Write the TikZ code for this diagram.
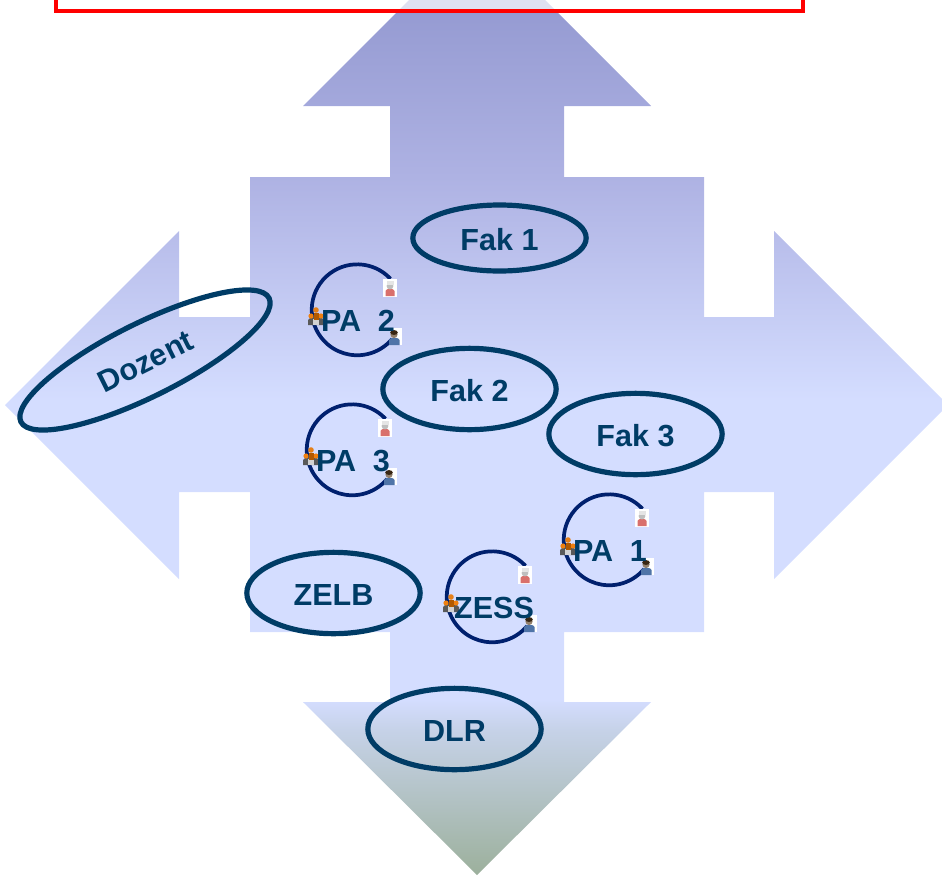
\documentclass[tikz,border=0pt]{standalone}
\usepackage{fontspec}
\setmainfont{Liberation Sans}
\usetikzlibrary{shapes.geometric}
\definecolor{navyT}{HTML}{003C66}
\definecolor{ringC}{HTML}{00206E}
\definecolor{sA}{HTML}{8A90CA}
\definecolor{sB}{HTML}{AEB2E3}
\definecolor{sC}{HTML}{D4DDFF}
\definecolor{sD}{HTML}{C6D2E8}
\definecolor{sE}{HTML}{9CB09C}
\definecolor{manB}{HTML}{4F74A8}
\definecolor{cookB}{HTML}{D9706C}
\pgfdeclareverticalshading{crossgrad}{100bp}{color(0bp)=(sE); color(25bp)=(sE); color(32.7bp)=(sD); color(34.3bp)=(sC); color(50.2bp)=(sC); color(62bp)=(sB); color(75bp)=(sA); color(100bp)=(sA)}
\tikzset{
  x=0.75pt, y=-0.75pt,
  oval/.style={draw=navyT, line width=3.9pt, ellipse, inner sep=0pt, text=navyT, text height=18pt, text depth=0pt,
    font=\fontsize{22.9pt}{26pt}\bfseries, minimum width=130pt, minimum height=58pt},
  ringbase/.style={circle, inner sep=0pt, minimum size=68.25pt},
  ringline/.style={draw=ringC, line width=2.8pt},
  ringtext/.style={text=navyT, inner sep=0pt, font=\fontsize{22.9pt}{26pt}\bfseries},
  iconbg/.style={fill=white, draw=none},
  pics/cookicon/.style={code={
    \fill[iconbg] (-7,-9) rectangle (7,9);
    \fill[cookB] (-4.5,8) -- (-4.5,3) .. controls (-4.5,0) and (4.5,0) .. (4.5,3) -- (4.5,8) -- cycle;
    \fill[gray!50] (0,-2) circle [radius=3.4];
    \fill[gray!20] (-3.5,-7) rectangle (3.5,-3.5);
  }},
  pics/manicon/.style={code={
    \fill[iconbg] (-2,-9) rectangle (7,8);
    \fill[manB] (-6,8) -- (-6,3) .. controls (-6,0) and (4.5,0) .. (4.5,3) -- (4.5,8) -- cycle;
    \fill[gray!70!brown] (-1,-2.5) circle [radius=3.6];
    \fill[black!70!brown] (-1,-4.5) ellipse [x radius=3.8, y radius=2.4];
  }},
  pics/groupicon/.style={code={
    \fill[gray!70!black] (-8,8) -- (-8,3) -- (-5,0) -- (5,0) -- (8,3) -- (8,8) -- cycle;
    \fill[gray!35] (-3,2) rectangle (3,8);
    \fill[orange!75!brown] (-5,-1) circle [radius=2.6];
    \fill[orange!75!brown] (5,-1) circle [radius=2.6];
    \fill[orange!60!brown] (0,-7) circle [radius=2.8];
    \fill[orange!70!black] (-2.5,-4.5) rectangle (2.5,3);
  }},
}
\newcommand{\ringunit}[5]{%
  % name, cx, cy, text, text dx
  \begin{scope}[shift={(#2,#3)}]
    \node[ringbase] (#1c) at (0,0) {};
    \draw[ringline] (#1c.43) arc[start angle=43, end angle=320, radius=34.1pt];
    \pic at (33,-22) {cookicon};
    \pic at (38,27) {manicon};
    \pic at (-41,7) {groupicon};
    \node[ringtext] (#1t) at (#5,11) {#4};
  \end{scope}}
\begin{document}
\begin{tikzpicture}
\useasboundingbox (0,0) rectangle (942,875);
\clip (0,0) rectangle (942,875);
\path[shading=crossgrad]
  (477,-68) -- (651,106) -- (564,106) -- (564,177) -- (704,177) -- (704,317) -- (774,317) -- (774,231)
  -- (948,405) -- (774,579) -- (774,492) -- (704,492) -- (704,632) -- (564,632) -- (564,702) -- (651,702)
  -- (477,875) -- (303,702) -- (390,702) -- (390,632) -- (250,632) -- (250,492) -- (179,492) -- (179,579)
  -- (5,405) -- (179,231) -- (179,317) -- (250,317) -- (250,177) -- (390,177) -- (390,106) -- (303,106) -- cycle;
\fill[white, fill opacity=0.7] (56,-10) rectangle (803,11);
\draw[red, line width=2.3pt] (56,-10) rectangle (803,11);

\node[oval, minimum height=49.5pt] (fak1) at (499.5,238) {Fak 1};
\node[oval, minimum height=61pt] (fak2) at (469.5,389) {Fak 2};
\node[oval, minimum height=61pt] (fak3) at (635.5,434) {Fak 3};
\node[oval, minimum height=61pt] (zelb) at (333.5,593) {ZELB};
\node[oval, minimum height=61pt] (dlr) at (454.5,729) {DLR};
\node[oval, rotate=26.5, minimum width=208pt, minimum height=55pt] (dozent) at (145,360) {Dozent};

\ringunit{pa2}{357}{310}{PA\hspace{0.55em}2}{1}
\ringunit{pa3}{352}{450}{PA\hspace{0.55em}3}{1}
\ringunit{pa1}{609}{540}{PA\hspace{0.55em}1}{1}
\ringunit{zess}{492}{597}{ZESS}{2}
\end{tikzpicture}
\end{document}
